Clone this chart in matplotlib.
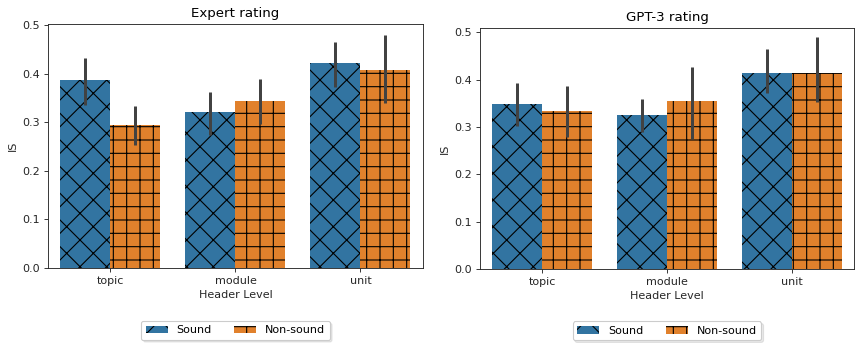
import matplotlib
matplotlib.use("Agg")
import matplotlib.pyplot as plt
import numpy as np
from matplotlib.patches import Patch

levels = ["topic", "module", "unit"]
groups = ["Sound", "Non-sound"]

# Expert rating: means and error bar ends (low, high)
expert_sound = [0.387, 0.320, 0.421]
expert_sound_lo = [0.336, 0.274, 0.372]
expert_sound_hi = [0.432, 0.363, 0.465]
expert_non = [0.295, 0.344, 0.407]
expert_non_lo = [0.254, 0.296, 0.339]
expert_non_hi = [0.333, 0.389, 0.479]

# GPT-3 rating
gpt_sound = [0.348, 0.325, 0.415]
gpt_sound_lo = [0.302, 0.289, 0.372]
gpt_sound_hi = [0.392, 0.359, 0.465]
gpt_non = [0.334, 0.354, 0.415]
gpt_non_lo = [0.278, 0.275, 0.353]
gpt_non_hi = [0.387, 0.427, 0.490]

col_sound = "#3274a1"
col_non = "#e1812c"
col_err = "#424242"

DPI = 80
fig = plt.figure(figsize=(855 / DPI, 344 / DPI), dpi=DPI)
ax1 = fig.add_axes([0.0561, 0.2209, 0.4386, 0.7093])
ax2 = fig.add_axes([0.5614, 0.2180, 0.4374, 0.7006])


def draw(ax, title, s, s_lo, s_hi, n, n_lo, n_hi, ytop):
    x = np.arange(len(levels))
    w = 0.4
    ax.bar(x - w / 2, s, w, color=col_sound, hatch="x", linewidth=0)
    ax.bar(x + w / 2, n, w, color=col_non, hatch="+", linewidth=0)
    ax.vlines(x - w / 2, s_lo, s_hi, color=col_err, linewidth=2.7)
    ax.vlines(x + w / 2, n_lo, n_hi, color=col_err, linewidth=2.7)
    ax.set_xlim(-0.5, len(levels) - 0.5)
    ax.set_ylim(0, ytop)
    ax.set_yticks([0.0, 0.1, 0.2, 0.3, 0.4, 0.5])
    ax.set_xticks(x)
    ax.set_xticklabels(levels)
    ax.tick_params(labelsize=10, colors="#262626", labelcolor="#262626")
    for sp in ax.spines.values():
        sp.set_color("#262626")
    ax.set_title(title, fontsize=12)
    ax.set_xlabel("Header Level", fontsize=10, color="#262626")
    ax.set_ylabel("IS", fontsize=10, color="#262626")
    handles = [Patch(facecolor=col_sound, hatch="x", label=groups[0]),
               Patch(facecolor=col_non, hatch="+", label=groups[1])]
    ax.legend(handles=handles, loc="upper center", bbox_to_anchor=(0.5, -0.194),
              ncol=2, fontsize=10, shadow={"alpha": 0.12}, frameon=True)


draw(ax1, "Expert rating", expert_sound, expert_sound_lo, expert_sound_hi,
     expert_non, expert_non_lo, expert_non_hi, 0.502)
draw(ax2, "GPT-3 rating", gpt_sound, gpt_sound_lo, gpt_sound_hi,
     gpt_non, gpt_non_lo, gpt_non_hi, 0.509)

fig.savefig("out.png", dpi=DPI)
